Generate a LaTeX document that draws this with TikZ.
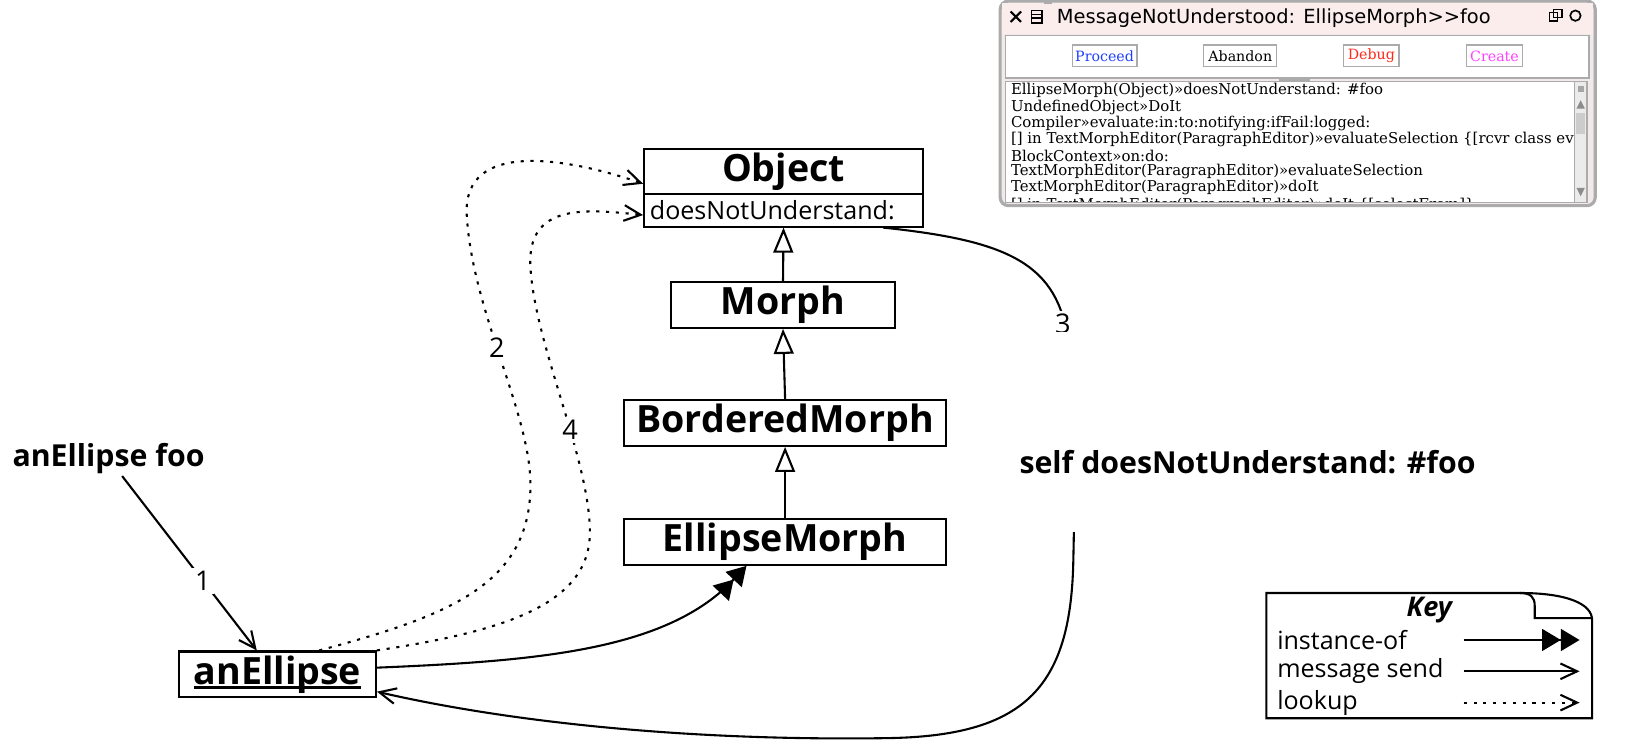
\documentclass[tikz,border=0pt]{standalone}
\usepackage{fontspec}
\setmainfont{Open Sans}
\newfontfamily\winsans{DejaVu Sans}
\newfontfamily\winserif{DejaVu Serif}
\usetikzlibrary{arrows.meta}
\definecolor{wingray}{HTML}{ABABAB}
\definecolor{winpink}{HTML}{FCEDED}
\definecolor{frameback}{HTML}{F2EAEA}
\definecolor{btnblue}{HTML}{1F3FFF}
\definecolor{btnred}{HTML}{FF2A1A}
\definecolor{btnmag}{HTML}{FF40FF}
\newcommand\thickul[1]{\setbox0\hbox{#1}\rlap{\rule[-2.4pt]{\wd0}{1.5pt}}\box0}
\tikzset{
  cls/.style={draw, line width=1pt, fill=white, inner sep=0pt, font=\fontsize{18}{20}\selectfont\bfseries},
  lbl/.style={fill=white, inner sep=1.5pt, font=\fontsize{13}{15}\selectfont},
  msgtxt/.style={font=\fontsize{14.5}{17}\selectfont\bfseries, inner sep=0pt},
  inh/.style={line width=1pt, -{Triangle[open, length=12pt, width=9.5pt, fill=white]}},
  send/.style={line width=1pt, -{Straight Barb[length=8pt, width=7.5pt]}},
  look/.style={send, dash pattern=on 1.5pt off 3.2pt},
  inst/.style={line width=1pt, -{Triangle[length=9pt,width=10.5pt]Triangle[length=9pt,width=10.5pt]}},
  btn/.style={draw=wingray, line width=0.6pt, fill=white, inner sep=0pt, minimum height=10.5pt, font=\winserif\fontsize{6.8}{8}\selectfont},
  stk/.style={anchor=west, inner sep=0pt, font=\winserif\fontsize{7.15}{8}\selectfont},
  keytxt/.style={anchor=west, inner sep=0pt, font=\fontsize{12}{14}\selectfont},
}
\begin{document}
\begin{tikzpicture}[x=0.5pt,y=-0.5pt]
\useasboundingbox (0,0) rectangle (1568,713);

% ---------------- window ----------------
\draw[wingray, line width=1.5pt, fill=frameback, rounded corners=4pt] (958,1) rectangle (1528,197);
\fill[winpink] (960,3) rectangle (1526,33);
\draw[line width=1pt] (968,11) -- (978,21) (978,11) -- (968,21);
\draw[line width=0.8pt] (988,10) rectangle (998,22);
\draw[line width=0.8pt] (988,14) -- (998,14) (988,17.5) -- (998,17.5);
\node[anchor=west, inner sep=0pt, font=\winsans\fontsize{9.3}{11}\selectfont] (wtitle) at (1012,17) {MessageNotUnderstood: EllipseMorph>{}>foo};
\draw[line width=0.7pt] (1484,12) rectangle (1492,20) (1488,9) rectangle (1496,17);
\draw[line width=0.8pt] (1509,15) circle[radius=5];
\fill[wingray] (1000,0) rectangle (1008,4);
% button panel
\draw[wingray, fill=white, line width=0.8pt] (963,34) rectangle (1522,75);
\node[btn, text=btnblue, minimum width=31pt] (bproceed) at (1058,53.5) {Proceed};
\node[btn, text=black, minimum width=35pt] (babandon) at (1188,53.5) {Abandon};
\node[btn, text=btnred, minimum width=26.5pt] (bdebug) at (1313.5,53.5) {Debug};
\node[btn, text=btnmag, minimum width=26.5pt] (bcreate) at (1431.5,53.5) {Create};
\fill[wingray] (1225,75) rectangle (1255,78);
% stack list
\draw[wingray, fill=white, line width=0.8pt] (963,78) rectangle (1520,194);
\fill[black!8] (1508,79) rectangle (1519.5,193.5);
\draw[wingray, line width=0.5pt] (1508,79) -- (1508,193.5);
\fill[black!35] (1511,82) rectangle (1517,88);
\fill[black!45] (1510,104) -- (1518,104) -- (1514,96) -- cycle;
\fill[black!20] (1509.5,108) rectangle (1518.5,128);
\fill[black!45] (1510,180) -- (1518,180) -- (1514,188) -- cycle;
\begin{scope}
\clip (964,79) rectangle (1507,193);
\node[stk] (s1) at (968,87) {EllipseMorph(Object)»doesNotUnderstand: \#foo};
\node[stk] (s2) at (968,102.5) {UndefinedObject»DoIt};
\node[stk] (s3) at (968,118) {Compiler»evaluate:in:to:notifying:ifFail:logged:};
\node[stk] (s4) at (968,133.5) {[] in TextMorphEditor(ParagraphEditor)»evaluateSelection \{[rcvr class ev};
\node[stk] (s5) at (968,149) {BlockContext»on:do:};
\node[stk] (s6) at (968,164.5) {TextMorphEditor(ParagraphEditor)»evaluateSelection};
\node[stk] (s7) at (968,180) {TextMorphEditor(ParagraphEditor)»doIt};
\node[stk] (s8) at (968,197) {[] in TextMorphEditor(ParagraphEditor)»doIt \{[selectFrom]\}};
\end{scope}

% ---------------- classes ----------------
\node[cls, minimum width=133.5pt, minimum height=21.5pt] (obj) at (750.5,164.5) {Object};
\node[cls, minimum width=133.5pt, minimum height=15.5pt, font=\fontsize{12}{14}\selectfont] (objm) at (750.5,201.5) {\makebox[128pt][l]{doesNotUnderstand:}};
\node[cls, minimum width=107pt, minimum height=22pt] (morph) at (750,292) {Morph};
\node[cls, minimum width=154pt, minimum height=22pt] (bordered) at (752,405) {BorderedMorph};
\node[cls, minimum width=154pt, minimum height=22pt] (ellipse) at (752,519) {EllipseMorph};
\node[cls, minimum width=94.25pt, minimum height=22pt] (ae) at (265.75,646) {\thickul{anEllipse}};

\draw[inh] (morph.north) -- (objm.south);
\draw[inh] (bordered.north) -- (morph.south);
\draw[inh] (ellipse.north) -- (bordered.south);

% ---------------- message 1 ----------------
\node[msgtxt] (msg) at (104,439) {anEllipse foo};
\draw[send] ([xshift=6.5pt,yshift=-1pt]msg.south) -- ([xshift=-9.9pt]ae.north) node[lbl, pos=0.6] {1};

% instance-of
\draw[inst] ([yshift=3.25pt]ae.east) .. controls (520,633) and (640,622) .. ([xshift=-18.5pt]ellipse.south);

% lookup 2
\draw[look] ([xshift=20pt]ae.north) .. controls (430,590) and (505,560) .. (508,470)
  .. controls (511,400) and (452,300) .. (447,205) node[lbl, pos=0.55] {2}
  .. controls (444,135) and (540,150) .. ([yshift=-5.75pt]obj.west);
% lookup 4
\draw[look] (ae.north east) .. controls (480,605) and (565,580) .. (565,510)
  .. controls (565,440) and (512,330) .. (508,255) node[lbl, pos=0.4] {4}
  .. controls (505,195) and (560,200) .. ([yshift=-2.25pt]objm.west);

% message 3
\draw[send] ([xshift=-19.5pt]objm.south east) .. controls (960,230) and (1010,250) .. (1022,320)
  .. controls (1030,380) and (1030,450) .. (1028,540)
  .. controls (1025,660) and (980,705) .. (850,707)
  .. controls (650,710) and (480,690) .. ([yshift=-8.25pt]ae.east);
\node[lbl] (n3) at (1018,310) {3};
\node[msgtxt, fill=white, anchor=base, text height=68pt, text depth=28pt] (selfmsg) at (1195,454) {self doesNotUnderstand: \#foo};

% ---------------- key ----------------
\draw[line width=1pt] (1213,568) -- (1456,568) .. controls (1500,568) and (1525,578) .. (1525,594) -- (1525,688) -- (1213,688) -- cycle;
\draw[line width=1pt] (1456,568) .. controls (1466,568) and (1470,572) .. (1470,580) -- (1470,592) -- (1525,592);
\node[inner sep=0pt, font=\fontsize{13}{15}\selectfont\bfseries\itshape] (keyt) at (1369,584) {Key};
\node[keytxt] (k1) at (1223,613) {instance-of};
\node[keytxt] (k2) at (1223,643) {message send};
\node[keytxt] (k3) at (1223,673) {lookup};
\coordinate (k1a) at (1402,613); \coordinate (k1b) at (1513,613);
\coordinate (k2a) at (1402,643); \coordinate (k2b) at (1513,643);
\coordinate (k3a) at (1402,673); \coordinate (k3b) at (1513,673);
\draw[inst] (k1a) -- (k1b);
\draw[send] (k2a) -- (k2b);
\draw[look] (k3a) -- (k3b);
\end{tikzpicture}
\end{document}
